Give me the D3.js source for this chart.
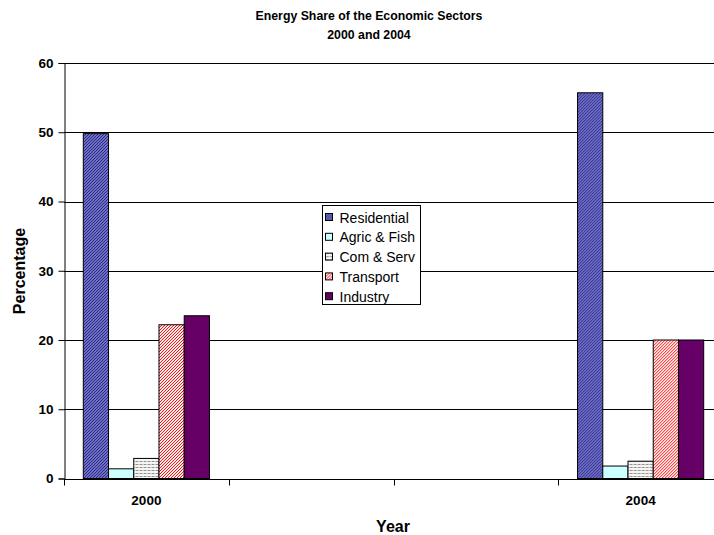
<!DOCTYPE html>
<html>
<head>
<meta charset="utf-8">
<script src="https://cdn.jsdelivr.net/npm/d3@7/dist/d3.min.js"></script>
<style>
  body { margin: 0; background: #fff; }
  text { font-family: "Liberation Sans", Arial, sans-serif; }
</style>
</head>
<body>
<svg id="chart" width="714" height="535"></svg>
<script>
const categories = ["2000", "2001", "2002", "2004"];
const categoryLabels = ["2000", "", "", "2004"];
const sectors = ["Residential", "Agric & Fish", "Com & Serv", "Transport", "Industry"];
const residential = [49.8, null, null, 55.7];
const agricFish = [1.4, null, null, 1.8];
const comServ = [2.9, null, null, 2.5];
const transport = [22.2, null, null, 20.0];
const industry = [23.5, null, null, 20.0];
const yTicks = [0, 10, 20, 30, 40, 50, 60];

const seriesValues = [residential, agricFish, comServ, transport, industry];

const svg = d3.select("#chart");
const defs = svg.append("defs");

function diagPattern(id, bg, fg, size, sw) {
  const p = defs.append("pattern").attr("id", id).attr("patternUnits", "userSpaceOnUse")
    .attr("width", size).attr("height", size);
  p.append("rect").attr("width", size).attr("height", size).attr("fill", bg);
  p.append("path").attr("d", `M0,${size} L${size},0 M${-size/2},${size/2} L${size/2},${-size/2} M${size/2},${size*1.5} L${size*1.5},${size/2}`)
    .attr("stroke", fg).attr("stroke-width", sw);
  return `url(#${id})`;
}
const fills = [];
fills.push(diagPattern("pRes", "#8a8ae8", "#28287a", 3, 1.1));
fills.push("#ccffff");
(function() {
  const p = defs.append("pattern").attr("id", "pCom").attr("patternUnits", "userSpaceOnUse")
    .attr("width", 4).attr("height", 3);
  p.append("rect").attr("width", 4).attr("height", 3).attr("fill", "#f4f4f4");
  p.append("rect").attr("x", 0).attr("y", 2).attr("width", 2).attr("height", 1).attr("fill", "#909090");
  p.append("rect").attr("x", 2).attr("y", 2).attr("width", 2).attr("height", 1).attr("fill", "#c8c8c8");
  fills.push("url(#pCom)");
})();
fills.push(diagPattern("pTra", "#fff0f0", "#ff1010", 3, 1.0));
fills.push("#660066");

const margin = { left: 64, top: 63, right: 723, bottom: 478.5 };

const x0 = d3.scaleBand().domain(categories).range([margin.left, margin.right]).paddingInner(0).paddingOuter(0);
const x1 = d3.scaleBand().domain(sectors).range([0, x0.bandwidth()]).paddingInner(0).paddingOuter(0.765);
const y = d3.scaleLinear().domain([0, 60]).range([margin.bottom, margin.top]);

// Gridlines
svg.append("g").selectAll("line").data(yTicks.filter(d => d > 0)).join("line")
  .attr("x1", margin.left).attr("x2", margin.right)
  .attr("y1", d => Math.round(y(d)) + 0.5).attr("y2", d => Math.round(y(d)) + 0.5)
  .attr("stroke", "#000").attr("stroke-width", 1);

// Bars
const groups = svg.append("g").selectAll("g").data(categories).join("g")
  .attr("transform", d => `translate(${x0(d)},0)`);
groups.selectAll("rect").data((c, ci) => sectors.map((s, si) => ({ s, si, v: seriesValues[si][ci] })).filter(d => d.v != null))
  .join("rect")
  .attr("x", d => x1(d.s))
  .attr("width", x1.bandwidth())
  .attr("y", d => y(d.v))
  .attr("height", d => y(0) - y(d.v))
  .attr("fill", d => fills[d.si])
  .attr("stroke", "#000").attr("stroke-width", 1);

// Y axis
const yAxis = svg.append("g").attr("transform", `translate(${margin.left + 0.5},0)`)
  .call(d3.axisLeft(y).tickValues(yTicks).tickSize(6).tickPadding(5).tickFormat(d3.format("d")));
yAxis.select(".domain").attr("stroke", "#000");
yAxis.selectAll(".tick line").attr("stroke", "#000");
yAxis.selectAll(".tick text").attr("font-size", 13.5).attr("font-weight", "bold").attr("fill", "#000")
  .style("font-family", "Liberation Sans, Arial, sans-serif");

// X axis
const xAxis = svg.append("g").attr("transform", `translate(0,${Math.round(margin.bottom) + 0.5})`)
  .call(d3.axisBottom(x0).tickSize(0).tickPadding(16).tickFormat((d, i) => categoryLabels[i]));
xAxis.select(".domain").remove();
xAxis.append("line").attr("x1", margin.left).attr("x2", margin.right).attr("stroke", "#000");
xAxis.selectAll(".tick text").attr("font-size", 13.5).attr("font-weight", "bold").attr("fill", "#000")
  .style("font-family", "Liberation Sans, Arial, sans-serif");
const bounds = categories.map(c => x0(c)).concat([margin.right]);
xAxis.append("g").selectAll("line").data(bounds).join("line")
  .attr("x1", d => Math.round(d) + 0.5).attr("x2", d => Math.round(d) + 0.5)
  .attr("y1", 0).attr("y2", 6).attr("stroke", "#000");

// Titles
svg.append("text").attr("x", 369).attr("y", 20).attr("text-anchor", "middle")
  .attr("font-size", 12.3).attr("font-weight", "bold").text("Energy Share of the Economic Sectors");
svg.append("text").attr("x", 369).attr("y", 39).attr("text-anchor", "middle")
  .attr("font-size", 12.3).attr("font-weight", "bold").text("2000 and 2004");
svg.append("text").attr("x", 393).attr("y", 532).attr("text-anchor", "middle")
  .attr("font-size", 16).attr("font-weight", "bold").text("Year");
svg.append("text").attr("transform", "translate(25,271) rotate(-90)").attr("text-anchor", "middle")
  .attr("font-size", 16).attr("font-weight", "bold").text("Percentage");

// Legend
const lg = svg.append("g").attr("transform", "translate(322.5,205.5)");
lg.append("rect").attr("width", 98).attr("height", 99).attr("fill", "#fff").attr("stroke", "#000");
const items = lg.selectAll("g.item").data(sectors).join("g").attr("class", "item")
  .attr("transform", (d, i) => `translate(0,${12 + i * 19.8})`);
items.append("rect").attr("x", 3).attr("y", -4).attr("width", 7).attr("height", 7)
  .attr("fill", (d, i) => fills[i]).attr("stroke", "#000").attr("stroke-width", 1);
items.append("text").attr("x", 17).attr("y", 5).attr("font-size", 14).text(d => d);
</script>
</body>
</html>
